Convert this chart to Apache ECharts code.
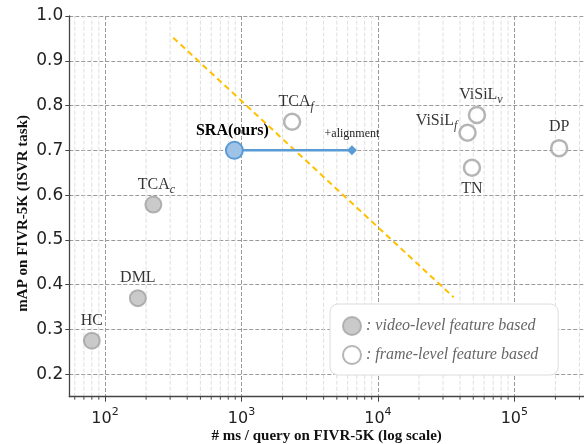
<!DOCTYPE html>
<html>
<head>
<meta charset="utf-8">
<script src="https://cdn.jsdelivr.net/npm/echarts@6/dist/echarts.min.js"></script>
<style>
  html, body { margin: 0; padding: 0; background: #fff; }
  #chart { width: 584px; height: 444px; }
</style>
</head>
<body>
<div id="chart"></div>
<script>
// ---- data ----
var videoNames = ['HC', 'DML', 'TCA_c'];
var videoX = [80, 174, 226];
var videoY = [0.275, 0.37, 0.579];

var frameNames = ['TCA_f', 'ViSiL_v', 'ViSiL_f', 'TN', 'DP'];
var frameX = [2350, 53200, 45400, 48900, 213000];
var frameY = [0.764, 0.779, 0.7395, 0.661, 0.705];

var sraNames = ['SRA(ours)', '+alignment'];
var sraX = [887, 6450];
var sraY = [0.70, 0.70];

var frontierX = [316, 35900];
var frontierY = [0.9515, 0.372];

var minorTicks = [60, 70, 80, 90, 200, 300, 400, 500, 600, 700, 800, 900,
  2000, 3000, 4000, 5000, 6000, 7000, 8000, 9000,
  20000, 30000, 40000, 50000, 60000, 70000, 80000, 90000,
  200000, 300000];

var legendNames = [': video-level feature based', ': frame-level feature based'];
var xAxisName = '# ms / query on FIVR-5K (log scale)';
var yAxisName = 'mAP on FIVR-5K (ISVR task)';

var X_MIN = 54.7, X_MAX = 324000, Y_MIN = 0.15, Y_MAX = 1.0;

// ---- label helpers ----
function richName(n) {
  var p = n.split('_');
  if (p.length === 2) return '{b|' + p[0] + '}{s|' + p[1] + '}';
  return '{b|' + n + '}';
}
var labelRich = {
  b: { fontFamily: 'Liberation Serif', fontSize: 16, color: '#000', verticalAlign: 'top', height: 18, lineHeight: 18 },
  s: { fontFamily: 'Liberation Serif', fontStyle: 'italic', fontSize: 12, color: '#000', verticalAlign: 'bottom', padding: [8, 0, 0, 0] }
};
var labelPos = {
  'HC': { position: 'top', distance: 2 },
  'DML': { position: 'top', distance: 2 },
  'TCA_c': { position: 'top', distance: 0, offset: [3, 0] },
  'TCA_f': { position: 'top', distance: 0, offset: [4, 0] },
  'ViSiL_v': { position: 'top', distance: 0, offset: [4, 0] },
  'ViSiL_f': { position: 'left', distance: 1, offset: [0, -11] },
  'TN': { position: 'bottom', distance: 3 },
  'DP': { position: 'top', distance: 3 }
};
function buildData(names, xs, ys) {
  return names.map(function (n, i) {
    var lp = labelPos[n] || { position: 'top' };
    return {
      name: n,
      value: [xs[i], ys[i]],
      label: Object.assign({ show: true, color: '#000', formatter: richName(n), rich: labelRich }, lp)
    };
  });
}

var chart = echarts.init(document.getElementById('chart'), null, { renderer: 'canvas' });

var option = {
  animation: false,
  grid: { left: 69.3, right: 0, top: 16, bottom: 47.3, containLabel: false, outerBoundsMode: 'none' },
  legend: {
    data: legendNames,
    orient: 'vertical',
    left: 330, top: 304,
    itemWidth: 18, itemHeight: 18, itemGap: 9,
    padding: [12, 20, 10, 12],
    backgroundColor: '#fff',
    borderColor: '#dcdcdc', borderWidth: 1, borderRadius: 8,
    icon: 'circle',
    textStyle: { fontFamily: 'Liberation Serif', fontStyle: 'italic', fontSize: 16, color: '#666' },
    selectedMode: false
  },
  xAxis: {
    type: 'log', logBase: 10, min: X_MIN, max: X_MAX,
    name: xAxisName, nameLocation: 'middle', nameGap: 32, nameMoveOverlap: false,
    nameTextStyle: { fontFamily: 'Liberation Serif', fontWeight: 'bold', fontSize: 15, color: '#111' },
    axisLine: { show: true, lineStyle: { color: '#444', width: 1.3 } },
    axisTick: { show: true, inside: false, length: 5, lineStyle: { color: '#444' } },
    axisLabel: {
      showMinLabel: false, showMaxLabel: false, margin: 10,
      formatter: function (v) {
        var e = Math.round(Math.log10(v));
        return '{base|10}{sup|' + e + '}';
      },
      rich: {
        base: { fontFamily: 'DejaVu Sans', fontSize: 16, color: '#222', verticalAlign: 'bottom', padding: [4, 0, 0, 0] },
        sup: { fontFamily: 'DejaVu Sans', fontSize: 11, color: '#222', verticalAlign: 'top', padding: [0, 0, 6, 0] }
      }
    },
    splitLine: { show: true, lineStyle: { color: '#9a9a9a', type: [4, 2], width: 1 } }
  },
  yAxis: {
    type: 'value', min: Y_MIN, max: Y_MAX, splitNumber: 8,
    name: yAxisName, nameLocation: 'middle', nameGap: 39, nameMoveOverlap: false,
    nameTextStyle: { fontFamily: 'Liberation Serif', fontWeight: 'bold', fontSize: 15, color: '#111', padding: [0, 14, 0, 0] },
    axisLine: { show: true, lineStyle: { color: '#444', width: 1.3 } },
    axisTick: { show: true, inside: false, length: 4, lineStyle: { color: '#444' } },
    axisLabel: {
      showMinLabel: false, margin: 6,
      fontFamily: 'DejaVu Sans', fontSize: 17, color: '#222',
      formatter: function (v) { return v.toFixed(1); }
    },
    splitLine: { show: true, lineStyle: { color: '#9a9a9a', type: [4, 2], width: 1 } }
  },
  series: [
    {
      type: 'custom',
      name: 'minor',
      silent: true, z: 0,
      clip: false,
      data: minorTicks.map(function (v) { return [v, Y_MIN]; }),
      renderItem: function (params, api) {
        var v = api.value(0);
        var b = api.coord([v, Y_MIN]);
        var t = api.coord([v, Y_MAX]);
        return {
          type: 'group',
          children: [
            { type: 'line', shape: { x1: b[0], y1: b[1], x2: t[0], y2: t[1] },
              style: { stroke: '#dedede', lineWidth: 1, lineDash: [4, 2] } },
            { type: 'line', shape: { x1: b[0], y1: b[1], x2: b[0], y2: b[1] + 3 },
              style: { stroke: '#444', lineWidth: 1 } }
          ]
        };
      }
    },
    {
      type: 'line',
      name: 'frontier',
      data: frontierX.map(function (x, i) { return [x, frontierY[i]]; }),
      symbol: 'none',
      silent: true, z: 3,
      lineStyle: { color: '#FFC000', width: 2, type: [6, 4] }
    },
    {
      type: 'scatter',
      name: legendNames[0],
      data: buildData(videoNames, videoX, videoY),
      symbol: 'circle', symbolSize: 16,
      itemStyle: { color: '#bdbdbd', borderColor: '#a3a3a3', borderWidth: 2 },
      z: 5
    },
    {
      type: 'scatter',
      name: legendNames[1],
      data: buildData(frameNames, frameX, frameY),
      symbol: 'circle', symbolSize: 16,
      itemStyle: { color: '#ffffff', borderColor: '#a3a3a3', borderWidth: 2.5 },
      z: 5
    },
    {
      type: 'line',
      name: 'SRA',
      z: 6,
      data: sraNames.map(function (n, i) {
        var first = i === 0;
        return {
          name: n,
          value: [sraX[i], sraY[i]],
          symbol: first ? 'circle' : 'diamond',
          symbolSize: first ? 17 : 10,
          itemStyle: first ? { color: '#9fc3e7', borderColor: '#5b9bd5', borderWidth: 2 }
                           : { color: '#5b9bd5', borderColor: '#5b9bd5', borderWidth: 0 },
          label: first
            ? { show: true, position: 'top', distance: 2, offset: [-2, 0], formatter: n,
                fontFamily: 'Liberation Serif', fontWeight: 'bold', fontSize: 16, color: '#000' }
            : { show: true, position: 'top', distance: 6, formatter: n,
                fontFamily: 'Liberation Serif', fontSize: 12, color: '#222' }
        };
      }),
      showSymbol: true,
      lineStyle: { color: '#5b9bd5', width: 2.5 }
    }
  ]
};
chart.setOption(option);
</script>
</body>
</html>
